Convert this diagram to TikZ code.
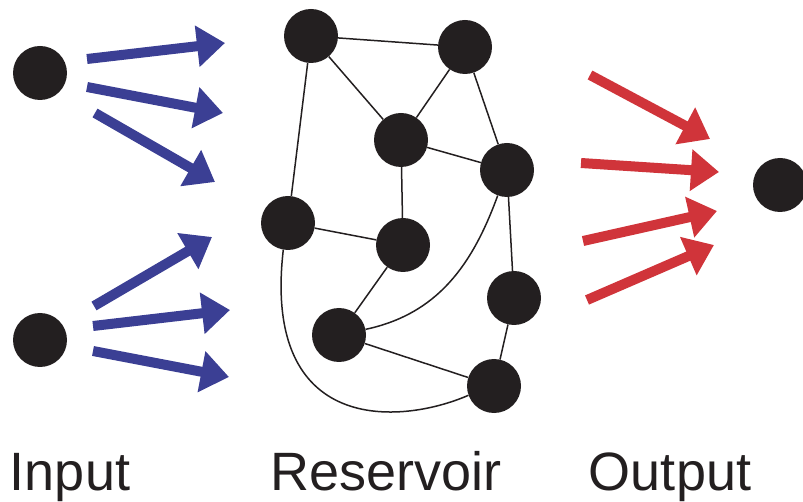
\documentclass[tikz,border=0pt]{standalone}
\usepackage{fontspec}
\setmainfont{Liberation Sans}
\usetikzlibrary{arrows.meta}
\definecolor{ink}{RGB}{35,31,32}
\definecolor{inblue}{RGB}{59,63,148}
\definecolor{outred}{RGB}{208,52,58}
\begin{document}
\begin{tikzpicture}[x=1pt,y=-1pt,
  unit/.style={circle,fill=ink,draw=none,minimum size=54pt,inner sep=0pt},
  link/.style={draw=ink,line width=1.5pt},
  feed/.style={line width=10pt,-{Triangle[length=28pt,width=40pt]}},
  caption/.style={anchor=base,font=\fontsize{54}{60}\selectfont,text=ink}]
\useasboundingbox (0,0) rectangle (803,502);

% input and output units
\node[unit] (in1) at (40,73) {};
\node[unit] (in2) at (40,340) {};
\node[unit] (out) at (780,185) {};

% reservoir units
\node[unit] (a) at (311,36) {};
\node[unit] (b) at (465,47) {};
\node[unit] (c) at (401,140) {};
\node[unit] (d) at (507,170) {};
\node[unit] (e) at (288,223) {};
\node[unit] (f) at (403,245) {};
\node[unit] (g) at (514,298) {};
\node[unit] (h) at (339,335) {};
\node[unit] (i) at (494,386) {};

% reservoir connections
\draw[link] (a) -- (b);
\draw[link] (a) -- (c);
\draw[link] (b) -- (c);
\draw[link] (b) -- (d);
\draw[link] (a) -- (e);
\draw[link] (c) -- (d);
\draw[link] (c) -- (f);
\draw[link] (e) -- (f);
\draw[link] (f) -- (h);
\draw[link] (d) -- (g);
\draw[link] (g) -- (i);
\draw[link] (h) -- (i);
\draw[link] (d) to[out=-110,in=12] (h);
\draw[link] (e.-100) .. controls (262,435) and (400,425) .. (i.-160);

% input weights
\coordinate (s1) at (87,59);  \coordinate (t1) at (225,43);
\coordinate (s2) at (87,87);  \coordinate (t2) at (223,113);
\coordinate (s3) at (95,113); \coordinate (t3) at (215,182);
\coordinate (s4) at (94,306); \coordinate (t4) at (212,237);
\coordinate (s5) at (93,326); \coordinate (t5) at (230,310);
\coordinate (s6) at (93,351); \coordinate (t6) at (229,377);
\foreach \k in {1,...,6} \draw[feed,inblue] (s\k) -- (t\k);

% output weights
\coordinate (r1) at (590,75);  \coordinate (q1) at (710,139);
\coordinate (r2) at (581,163); \coordinate (q2) at (719,172);
\coordinate (r3) at (583,241); \coordinate (q3) at (717,211);
\coordinate (r4) at (587,300); \coordinate (q4) at (714,245);
\foreach \k in {1,...,4} \draw[feed,outred] (r\k) -- (q\k);

% labels
\node[caption] (lin) at (70,490) {Input};
\node[caption] (lres) at (386,490) {Reservoir};
\node[caption] (lout) at (670,490) {Output};
\end{tikzpicture}
\end{document}
